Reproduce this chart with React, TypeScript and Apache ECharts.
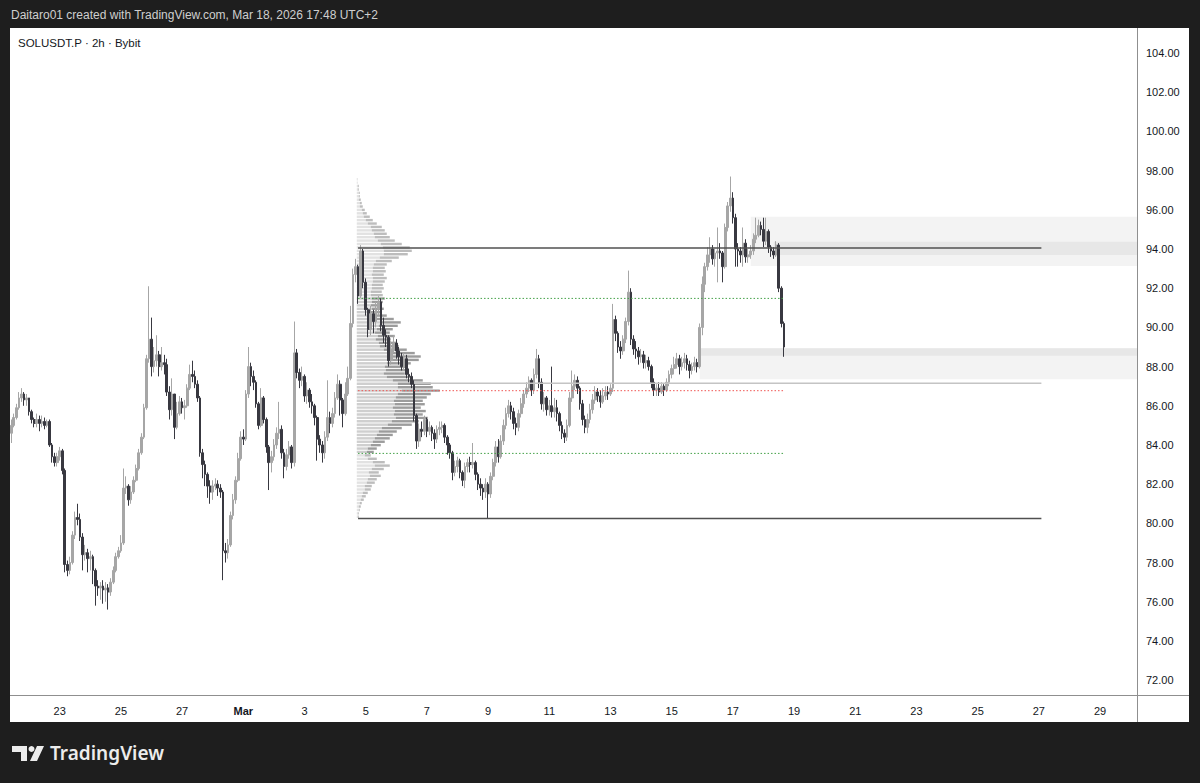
import React, { useEffect, useRef } from 'react';
import * as echarts from 'echarts';

// ---------------- data (SOLUSDT.P, 2h bars, from Feb 21 10:00) ----------------
const firstOpen = 84.6;
const closes = [
  85.0, 85.4, 85.9, 86.4, 86.6, 86.3, 86.4, 85.7, 85.3, 85.1,
  85.3, 85.1, 85.2, 85.0, 85.2, 84.0, 83.4, 83.1, 83.4, 83.7,
  82.7, 77.9, 77.6, 78.0, 79.4, 80.3, 80.2, 79.3, 78.4, 78.5,
  78.2, 78.3, 77.6, 76.8, 76.7, 76.8, 76.6, 76.7, 76.5, 77.0,
  77.6, 78.3, 78.6, 79.0, 81.8, 81.9, 81.2, 81.6, 82.2, 82.8,
  83.6, 84.4, 85.9, 88.4, 89.4, 88.0, 88.3, 88.6, 88.0, 88.2,
  88.1, 86.7, 85.8, 86.6, 84.9, 85.6, 86.2, 85.9, 86.0, 86.9,
  87.6, 87.5, 87.1, 86.4, 83.6, 83.0, 82.5, 81.9, 81.6, 81.9,
  82.0, 81.8, 81.6, 78.6, 78.5, 78.9, 80.4, 81.2, 82.2, 83.3,
  84.4, 84.3, 86.6, 88.0, 87.5, 87.2, 86.1, 85.0, 86.4, 85.3,
  83.9, 83.1, 83.4, 84.0, 84.6, 84.8, 83.6, 82.9, 83.5, 83.9,
  83.1, 88.7, 87.7, 87.3, 87.5, 86.5, 86.8, 86.2, 86.0, 85.4,
  84.3, 84.0, 83.6, 84.4, 85.4, 85.1, 85.6, 86.4, 87.1, 86.3,
  85.6, 86.6, 87.4, 90.2, 92.7, 93.1, 91.6, 93.9, 92.3, 90.9,
  89.9, 90.7, 90.3, 90.9, 91.3, 90.1, 89.6, 89.5, 88.3, 88.9,
  89.2, 88.8, 88.5, 88.0, 88.4, 87.6, 87.5, 87.1, 85.5, 84.2,
  84.8, 84.7, 85.3, 84.7, 84.9, 84.6, 84.3, 84.8, 84.9, 85.0,
  84.4, 84.0, 83.6, 82.6, 82.9, 83.2, 82.6, 82.2, 82.9, 83.1,
  83.0, 83.1, 82.5, 82.0, 81.8, 81.6, 82.0, 81.5, 82.4, 83.1,
  83.9, 83.4, 84.2, 85.0, 85.6, 86.0, 85.7, 85.1, 84.9, 85.6,
  86.1, 86.6, 86.9, 87.3, 86.8, 87.6, 88.4, 87.2, 86.1, 86.4,
  85.8, 86.0, 85.7, 85.9, 85.6, 85.0, 84.6, 84.4, 85.0, 86.4,
  87.0, 87.3, 86.9, 86.1, 85.3, 84.9, 85.3, 85.8, 86.3, 86.7,
  86.5, 86.2, 86.5, 86.7, 86.6, 86.9, 90.4, 89.7, 89.0, 88.8,
  89.4, 90.3, 91.8, 89.4, 88.9, 88.8, 88.5, 88.6, 88.2, 88.3,
  88.0, 87.2, 86.8, 86.9, 86.7, 87.0, 86.8, 87.2, 87.6, 87.9,
  88.1, 88.4, 88.0, 88.2, 88.4, 88.1, 87.8, 88.0, 88.2, 88.0,
  90.0, 92.2, 93.1, 93.7, 94.0, 93.5, 93.8, 93.9, 93.8, 93.1,
  95.1, 96.2, 96.6, 95.6, 94.0, 93.9, 93.7, 94.3, 93.6, 93.7,
  93.9, 94.5, 94.7, 95.2, 95.0, 94.4, 94.9, 94.1, 93.9, 93.7,
  94.2, 92.0, 90.2, 89.0,
];
const highs = [
  85.3, 85.6, 86.1, 86.7, 86.9, 86.7, 86.6, 86.4, 85.8, 85.4,
  85.6, 85.5, 85.5, 85.4, 85.3, 85.3, 84.1, 83.6, 83.6, 83.9,
  83.8, 82.8, 78.1, 78.3, 79.6, 80.6, 81.0, 80.5, 79.5, 78.9,
  78.7, 78.6, 78.4, 77.7, 77.1, 77.0, 77.1, 77.0, 76.9, 77.2,
  77.8, 78.5, 78.8, 79.4, 82.8, 82.4, 82.0, 81.9, 82.4, 83.0,
  83.8, 84.6, 86.1, 88.6, 92.1, 90.5, 89.0, 89.6, 88.8, 89.0,
  88.6, 88.4, 87.0, 87.4, 86.6, 86.2, 86.5, 86.4, 86.3, 87.1,
  88.1, 88.3, 87.8, 87.3, 86.5, 83.8, 83.2, 82.6, 82.2, 82.2,
  82.3, 82.2, 82.0, 81.7, 79.0, 79.2, 80.6, 81.5, 82.4, 83.6,
  84.7, 84.8, 86.8, 89.0, 88.2, 87.8, 87.3, 86.2, 86.9, 86.5,
  85.4, 84.0, 83.7, 84.3, 84.9, 86.2, 85.0, 83.8, 83.8, 84.2,
  84.0, 90.3, 88.9, 87.9, 88.0, 87.6, 87.2, 86.9, 86.6, 86.1,
  85.5, 84.5, 84.2, 84.7, 87.3, 85.7, 85.9, 86.7, 87.6, 87.3,
  86.4, 87.2, 88.0, 91.1, 93.0, 93.5, 93.2, 94.2, 94.0, 92.5,
  91.0, 91.1, 90.9, 91.3, 91.6, 91.5, 90.5, 89.9, 89.6, 89.3,
  89.6, 89.4, 89.0, 88.7, 88.7, 88.6, 87.9, 87.7, 87.3, 85.6,
  85.1, 85.2, 85.5, 85.4, 85.2, 85.0, 84.8, 85.0, 85.2, 85.2,
  85.1, 84.5, 84.1, 83.7, 83.2, 83.4, 83.3, 82.7, 83.1, 83.3,
  83.4, 84.1, 83.2, 82.6, 82.3, 82.0, 82.3, 82.1, 82.6, 83.3,
  84.2, 84.3, 84.5, 85.3, 85.9, 86.3, 86.2, 85.9, 85.4, 85.8,
  86.4, 86.8, 87.2, 87.5, 87.4, 87.9, 88.9, 88.6, 87.4, 86.7,
  86.5, 86.3, 88.0, 86.4, 86.3, 85.7, 85.2, 84.8, 85.3, 86.7,
  87.8, 87.6, 87.5, 87.0, 86.3, 85.5, 85.6, 86.1, 86.6, 87.0,
  86.9, 86.8, 86.9, 87.0, 87.0, 87.1, 91.2, 90.6, 89.8, 89.3,
  89.6, 90.5, 92.9, 92.0, 89.6, 89.3, 89.0, 88.9, 88.8, 88.6,
  88.5, 88.1, 87.4, 87.1, 87.2, 87.2, 87.1, 87.4, 87.8, 88.1,
  88.5, 88.7, 88.6, 88.5, 88.7, 88.6, 88.3, 88.2, 88.5, 88.4,
  90.2, 92.6, 93.3, 94.1, 94.6, 94.2, 94.0, 95.1, 94.3, 93.9,
  95.3, 96.4, 97.7, 96.9, 95.8, 94.3, 94.1, 95.1, 94.5, 94.0,
  94.2, 94.8, 95.6, 95.5, 95.4, 95.6, 95.6, 95.0, 94.2, 94.1,
  94.4, 94.3, 92.1, 90.3,
];
const lows = [
  84.1, 84.9, 85.3, 85.8, 86.2, 86.0, 86.0, 85.5, 85.1, 84.9,
  84.9, 84.7, 84.9, 84.8, 84.9, 83.9, 83.1, 82.9, 82.9, 83.2,
  82.5, 77.5, 77.3, 77.4, 77.9, 79.2, 79.9, 79.1, 77.6, 78.1,
  77.5, 77.6, 76.9, 75.8, 76.3, 76.1, 75.9, 76.0, 75.6, 76.3,
  76.9, 77.5, 78.2, 78.5, 78.9, 81.5, 80.9, 81.0, 81.5, 82.1,
  82.7, 83.5, 84.3, 85.8, 88.2, 87.5, 87.7, 88.0, 87.5, 87.8,
  87.6, 86.5, 85.3, 85.5, 84.3, 84.8, 85.5, 85.6, 85.3, 85.9,
  86.8, 87.2, 86.9, 86.2, 83.4, 82.3, 81.9, 81.3, 81.0, 81.2,
  81.7, 81.4, 81.3, 77.1, 78.0, 78.2, 78.8, 80.2, 81.0, 82.1,
  83.2, 84.0, 84.2, 86.4, 87.0, 86.8, 85.9, 84.8, 84.9, 85.1,
  83.6, 81.7, 82.6, 83.2, 83.8, 84.3, 83.3, 82.3, 82.7, 83.3,
  82.8, 82.9, 87.4, 86.9, 87.0, 86.2, 86.1, 85.9, 85.6, 85.0,
  83.2, 83.6, 83.1, 83.3, 84.2, 84.6, 84.9, 85.4, 86.3, 85.5,
  84.9, 85.5, 86.5, 87.3, 90.0, 92.3, 91.2, 91.5, 92.0, 90.6,
  89.5, 89.6, 89.7, 90.0, 90.6, 89.8, 89.2, 89.0, 88.0, 88.1,
  88.7, 88.4, 88.1, 87.8, 87.8, 87.4, 87.2, 86.9, 85.2, 83.8,
  83.9, 84.4, 84.5, 84.4, 84.5, 84.2, 83.8, 84.1, 84.5, 84.6,
  84.1, 83.5, 83.3, 82.2, 82.4, 82.6, 82.3, 81.9, 81.8, 82.6,
  82.6, 82.8, 82.2, 81.7, 81.4, 81.2, 81.3, 80.25, 81.3, 82.2,
  82.9, 83.1, 83.3, 84.0, 84.8, 85.4, 85.3, 84.8, 84.5, 84.7,
  85.4, 85.9, 86.4, 86.7, 86.5, 86.6, 87.4, 86.9, 85.8, 85.7,
  85.5, 85.5, 85.4, 85.4, 85.2, 84.7, 84.3, 84.1, 84.2, 84.9,
  86.2, 86.8, 86.6, 85.8, 85.0, 84.6, 84.6, 85.1, 85.6, 86.1,
  86.2, 85.9, 86.1, 86.3, 86.3, 86.5, 86.7, 89.3, 88.7, 88.4,
  88.6, 89.2, 90.1, 89.1, 88.6, 88.4, 88.1, 88.2, 87.9, 87.9,
  87.8, 86.9, 86.5, 86.5, 86.5, 86.6, 86.5, 86.7, 87.0, 87.4,
  87.6, 87.9, 87.6, 87.8, 87.9, 87.8, 87.4, 87.6, 87.8, 87.7,
  87.9, 89.6, 91.8, 92.9, 93.3, 93.2, 93.1, 92.3, 93.5, 92.3,
  93.0, 94.9, 95.9, 95.3, 93.1, 93.1, 93.3, 93.1, 93.3, 93.3,
  93.5, 93.7, 94.3, 94.6, 94.7, 94.1, 94.2, 93.8, 93.6, 93.5,
  93.6, 91.8, 90.0, 88.5,
];

// time axis: first bar Feb 21 10:00, 2h bars, axis runs to end of March
const firstBarUTC = Date.UTC(2026, 1, 21, 10);
const axisBarCount = 442;
const xTickDays = ['2-23', '2-25', '2-27', '3-1', '3-3', '3-5', '3-7', '3-9', '3-11', '3-13',
  '3-15', '3-17', '3-19', '3-21', '3-23', '3-25', '3-27', '3-29'];
const xTickLabels = ['23', '25', '27', 'Mar', '3', '5', '7', '9', '11', '13',
  '15', '17', '19', '21', '23', '25', '27', '29'];
const yTicks = [72, 74, 76, 78, 80, 82, 84, 86, 88, 90, 92, 94, 96, 98, 100, 102, 104];

// fixed range volume profile (rows listed from top price to bottom price)
const profileStartBar = 136;
const profileHigh = 97.65;
const profileLow = 80.25;
const profileUp = [
  1, 1, 1, 1, 2, 2, 2, 3, 3, 5,
  6, 7, 9, 11, 14, 15, 17, 18, 21, 24,
  26, 27, 27, 23, 19, 17, 16, 16, 15, 16,
  16, 15, 15, 14, 14, 15, 15, 14, 15, 14,
  16, 20, 24, 22, 20, 18, 21, 19, 22, 23,
  27, 32, 35, 34, 30, 28, 29, 27, 30, 36,
  41, 41, 45, 41, 39, 37, 38, 36, 38, 37,
  39, 35, 31, 25, 22, 20, 18, 16, 14, 11,
  10, 8, 11, 16, 18, 15, 12, 13, 11, 10,
  8, 8, 6, 5, 4, 3, 2, 2, 1, 1,
];
const profileDown = [
  0, 0, 1, 1, 1, 1, 2, 2, 3, 3,
  4, 6, 7, 9, 11, 13, 13, 15, 17, 21,
  27, 28, 24, 19, 16, 13, 12, 13, 12, 14,
  12, 11, 12, 11, 12, 13, 11, 11, 12, 10,
  14, 17, 20, 19, 16, 15, 17, 15, 18, 19,
  23, 26, 29, 28, 24, 22, 23, 21, 25, 30,
  33, 35, 38, 33, 31, 29, 30, 28, 31, 29,
  32, 27, 24, 20, 18, 16, 15, 12, 10, 9,
  7, 6, 9, 12, 15, 12, 10, 11, 9, 8,
  7, 6, 5, 4, 3, 2, 2, 1, 1, 1,
];
const valueAreaHigh = 91.48;
const valueAreaLow = 83.57;
const pocPrice = 86.77;
const profileEndBar = 303;

// drawn levels: [price, startBar, endBar]
const solidLevels = [[94.05, 136, 404], [80.25, 136, 404]];
const greyLevel = [87.15, 158, 404];

// shaded zones: [startBar, top, bottom, shade]
const zones = [
  [290, 95.65, 93.13, 0],
  [299, 94.37, 93.69, 1],
  [270, 88.93, 87.35, 0],
  [270, 88.93, 88.55, 1],
];

const headerText = 'Daitaro01 created with TradingView.com, Mar 18, 2026 17:48 UTC+2';
const symbolText = 'SOLUSDT.P · 2h · Bybit';

// ---------------- chart ----------------
const FONT = "'Liberation Sans', Arial, sans-serif";

function buildOption() {
  const cats: string[] = [];
  for (let i = 0; i < axisBarCount; i++) {
    const d = new Date(firstBarUTC + i * 2 * 3600 * 1000);
    cats.push(`${d.getUTCMonth() + 1}-${d.getUTCDate()}-${d.getUTCHours()}`);
  }
  const candles = closes.map((c, i) => {
    const o = i === 0 ? firstOpen : closes[i - 1];
    const h = Math.max(highs[i], o, c);
    const l = Math.min(lows[i], o, c);
    return [o, c, l, h];
  });

  const rowH = (profileHigh - profileLow) / profileUp.length;
  const profileRows = profileUp.map((u, k) => {
    const top = profileHigh - k * rowH;
    return [profileStartBar, top, top - rowH, u, profileDown[k]];
  });

  const lineSeries = (price: number, a: number, b: number, style: any, z: number) => ({
    type: 'line',
    data: [[a, price], [b, price]],
    showSymbol: false,
    symbol: 'none',
    silent: true,
    z,
    lineStyle: style,
  });

  return {
    animation: false,
    backgroundColor: '#1e1e1e',
    grid: { left: 10, right: 63, top: 28, bottom: 88, containLabel: false },
    xAxis: {
      type: 'category',
      data: cats,
      boundaryGap: true,
      axisLine: { show: false },
      axisTick: { show: false },
      splitLine: { show: false },
      axisLabel: {
        interval: (idx: number, val: string) => {
          const p = val.split('-');
          return p[2] === '0' && xTickDays.indexOf(`${p[0]}-${p[1]}`) >= 0;
        },
        formatter: (val: string) => {
          const p = val.split('-');
          const k = xTickDays.indexOf(`${p[0]}-${p[1]}`);
          const t = k >= 0 ? xTickLabels[k] : '';
          return t === 'Mar' ? '{b|Mar}' : t;
        },
        rich: { b: { fontWeight: 'bold', fontSize: 11, color: '#131722', fontFamily: FONT } },
        color: '#131722',
        fontSize: 11,
        fontFamily: FONT,
        margin: 10,
      },
    },
    yAxis: {
      type: 'value',
      position: 'right',
      min: 71.24,
      max: 105.28,
      axisLine: { show: false },
      axisTick: { show: false },
      splitLine: { show: false },
      axisLabel: {
        customValues: yTicks,
        formatter: (v: number) => v.toFixed(2),
        color: '#131722',
        fontSize: 11,
        fontFamily: FONT,
        margin: 9,
      },
    },
    series: [
      {
        type: 'custom',
        z: 1,
        silent: true,
        encode: { x: 0, y: 1 },
        data: zones,
        renderItem: (params: any, api: any) => {
          const p1 = api.coord([api.value(0), api.value(1)]);
          const p2 = api.coord([api.value(0), api.value(2)]);
          const right = params.coordSys.x + params.coordSys.width;
          return {
            type: 'rect',
            shape: { x: p1[0], y: p1[1], width: right - p1[0], height: p2[1] - p1[1] },
            style: { fill: api.value(3) === 1 ? '#e7e7e7' : '#f3f3f3' },
          };
        },
      },
      {
        type: 'custom',
        z: 2,
        silent: true,
        encode: { x: 0, y: 1 },
        data: profileRows,
        renderItem: (params: any, api: any) => {
          const top = api.value(1);
          const bot = api.value(2);
          const up = api.value(3);
          const dn = api.value(4);
          const pT = api.coord([api.value(0), top]);
          const pB = api.coord([api.value(0), bot]);
          const band = api.size([1, 0])[0];
          const x0 = pT[0] - band / 2;
          const h = Math.max(pB[1] - pT[1] - 1, 0.8);
          const mid = (top + bot) / 2;
          const inVA = mid <= valueAreaHigh && mid >= valueAreaLow;
          return {
            type: 'group',
            children: [
              { type: 'rect', shape: { x: x0, y: pT[1] + 0.5, width: up, height: h },
                style: { fill: inVA ? '#cfcfcf' : '#e2e2e2' } },
              { type: 'rect', shape: { x: x0 + up, y: pT[1] + 0.5, width: dn, height: h },
                style: { fill: inVA ? '#9c9c9c' : '#bdbdbd' } },
            ],
          };
        },
      },
      {
        type: 'candlestick',
        z: 3,
        data: candles,
        barWidth: 2.2,
        itemStyle: {
          color: '#a6a6a6',
          color0: '#383840',
          borderColor: '#a6a6a6',
          borderColor0: '#383840',
          borderWidth: 1,
        },
      },
      ...solidLevels.map(([p, a, b]) => lineSeries(p, a, b, { color: '#505050', width: 1.5 }, 4)),
      lineSeries(greyLevel[0], greyLevel[1], greyLevel[2], { color: '#c4c4c4', width: 1.5 }, 4),
      lineSeries(valueAreaHigh, profileStartBar, profileEndBar, { color: '#43a047', width: 1, type: [1.5, 2] }, 4),
      lineSeries(valueAreaLow, profileStartBar, profileEndBar, { color: '#43a047', width: 1, type: [1.5, 2] }, 4),
      lineSeries(pocPrice, profileStartBar, profileEndBar, { color: '#ef5350', width: 1, type: [1.5, 2] }, 4),
    ],
    graphic: [
      { type: 'rect', z: -10, silent: true, shape: { x: 10, y: 28, width: 1179, height: 694 }, style: { fill: '#ffffff' } },
      { type: 'line', z: 10, silent: true, shape: { x1: 1137.5, y1: 28, x2: 1137.5, y2: 722 }, style: { stroke: '#8f8f8f', lineWidth: 1 } },
      { type: 'line', z: 10, silent: true, shape: { x1: 10, y1: 695.5, x2: 1189, y2: 695.5 }, style: { stroke: '#8f8f8f', lineWidth: 1 } },
      { type: 'text', z: 10, x: 11, y: 15, silent: true,
        style: { text: headerText, fill: '#cfcfcf', fontSize: 12, fontFamily: FONT, verticalAlign: 'middle' } },
      { type: 'text', z: 10, x: 18, y: 43, silent: true,
        style: { text: symbolText, fill: '#131722', fontSize: 11.5, fontFamily: FONT, verticalAlign: 'middle' } },
      { type: 'polygon', z: 10, silent: true,
        shape: { points: [[12, 746], [27, 746], [27, 761], [21, 761], [21, 752], [12, 752]] }, style: { fill: '#ececec' } },
      { type: 'circle', z: 10, silent: true, shape: { cx: 31.5, cy: 749, r: 3 }, style: { fill: '#ececec' } },
      { type: 'polygon', z: 10, silent: true,
        shape: { points: [[37, 746], [44, 746], [37, 761], [30, 761]] }, style: { fill: '#ececec' } },
      { type: 'text', z: 10, x: 50, y: 753, silent: true,
        style: { text: 'TradingView', fill: '#ececec', fontSize: 19, fontWeight: 600, fontFamily: "'Noto Sans', sans-serif", verticalAlign: 'middle' } },
    ],
  };
}

export default function App() {
  const ref = useRef<HTMLDivElement>(null);
  useEffect(() => {
    if (!ref.current) return;
    const chart = echarts.init(ref.current, undefined, { renderer: 'svg' });
    chart.setOption(buildOption() as any);
    return () => chart.dispose();
  }, []);
  return <div ref={ref} style={{ position: 'fixed', left: 0, top: 0, width: 1200, height: 783 }} />;
}
